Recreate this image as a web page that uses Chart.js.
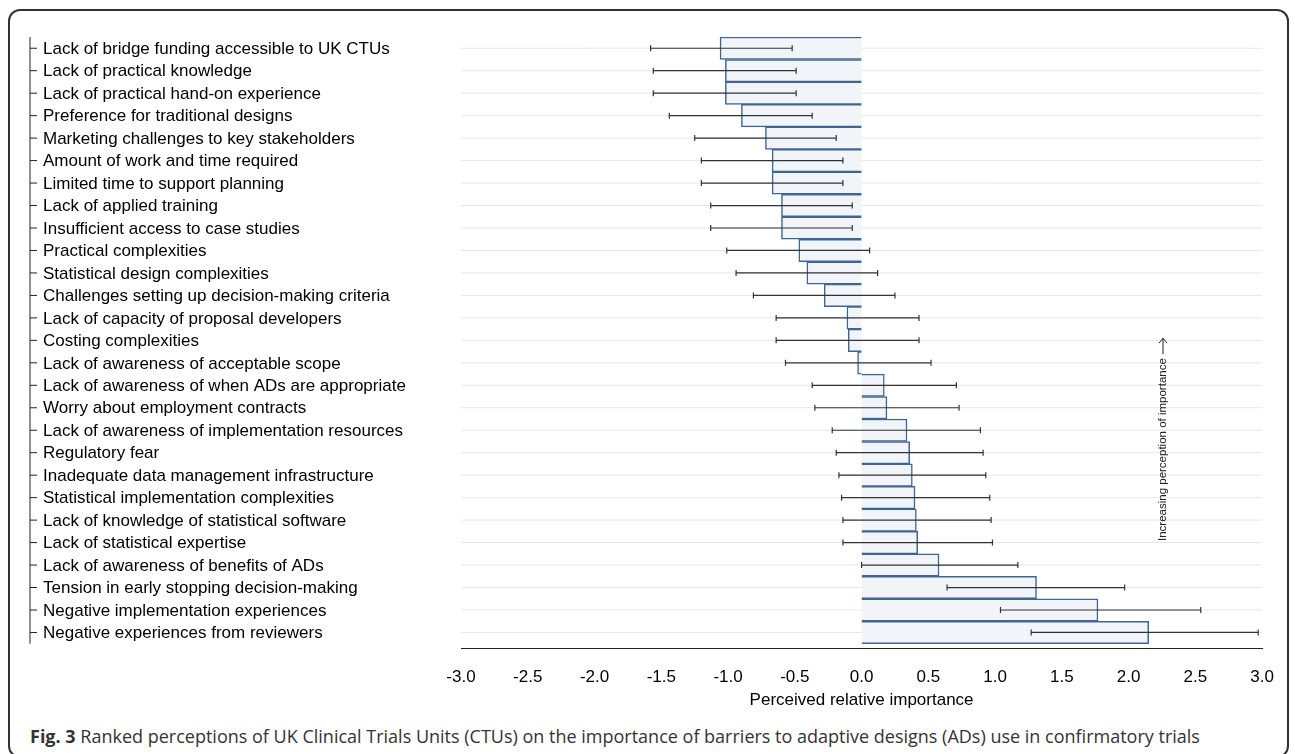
<!DOCTYPE html>
<html lang="en">
<head>
  <meta charset="UTF-8">
  <title>Barriers to adaptive designs</title>
  <script src="https://cdn.jsdelivr.net/npm/chart.js"></script>
  <style>
    body { margin: 0; background: #fff; font-family: 'Liberation Sans', Arial, sans-serif; }
    .box {
      position: absolute; left: 8px; top: 9px; width: 1277px; height: 745px;
      border: 2px solid #333; border-radius: 12px; overflow: hidden;
    }
    .wrap { position: absolute; left: 0; top: 0; width: 1277px; height: 700px; }
    .caption {
      position: absolute; left: 20px; top: 713px; font-family: 'Open Sans', sans-serif;
      font-size: 18px; color: #333; white-space: nowrap;
    }
  </style>
</head>
<body>
  <div class="box">
    <div class="wrap"><canvas id="chart"></canvas></div>
    <div class="caption"><b>Fig. 3</b> Ranked perceptions of UK Clinical Trials Units (CTUs) on the importance of barriers to adaptive designs (ADs) use in confirmatory trials</div>
  </div>
  <script>
    const categories = [
      'Lack of bridge funding accessible to UK CTUs', 'Lack of practical knowledge',
      'Lack of practical hand-on experience', 'Preference for traditional designs',
      'Marketing challenges to key stakeholders', 'Amount of work and time required',
      'Limited time to support planning', 'Lack of applied training',
      'Insufficient access to case studies', 'Practical complexities',
      'Statistical design complexities', 'Challenges setting up decision-making criteria',
      'Lack of capacity of proposal developers', 'Costing complexities',
      'Lack of awareness of acceptable scope', 'Lack of awareness of when ADs are appropriate',
      'Worry about employment contracts', 'Lack of awareness of implementation resources',
      'Regulatory fear', 'Inadequate data management infrastructure',
      'Statistical implementation complexities', 'Lack of knowledge of statistical software',
      'Lack of statistical expertise', 'Lack of awareness of benefits of ADs',
      'Tension in early stopping decision-making', 'Negative implementation experiences',
      'Negative experiences from reviewers'
    ];
    const estimates = [-1.06, -1.02, -1.02, -0.90, -0.72, -0.67, -0.67, -0.60, -0.60, -0.47, -0.41, -0.28, -0.11, -0.10, -0.03,
      0.17, 0.19, 0.34, 0.36, 0.38, 0.40, 0.41, 0.42, 0.58, 1.31, 1.77, 2.15];
    const lower = [-1.58, -1.56, -1.56, -1.44, -1.25, -1.20, -1.20, -1.13, -1.13, -1.01, -0.94, -0.81, -0.64, -0.64, -0.57,
      -0.37, -0.35, -0.22, -0.19, -0.17, -0.15, -0.14, -0.14, 0.00, 0.64, 1.04, 1.27];
    const upper = [-0.52, -0.49, -0.49, -0.37, -0.19, -0.14, -0.14, -0.07, -0.07, 0.06, 0.12, 0.25, 0.43, 0.43, 0.52,
      0.71, 0.73, 0.89, 0.91, 0.93, 0.96, 0.97, 0.98, 1.17, 1.97, 2.54, 2.97];
    const xTicks = [-3, -2.5, -2, -1.5, -1, -0.5, 0, 0.5, 1, 1.5, 2, 2.5, 3];

    const family = "'Liberation Sans', Arial, sans-serif";

    const extras = {
      id: 'extras',
      beforeDatasetsDraw(chart) {
        const { ctx, chartArea: a, scales: { y } } = chart;
        ctx.save();
        ctx.strokeStyle = '#e6e6e6';
        ctx.lineWidth = 1;
        categories.forEach((c, i) => {
          const py = y.getPixelForValue(i);
          ctx.beginPath(); ctx.moveTo(a.left, py); ctx.lineTo(a.right, py); ctx.stroke();
        });
        ctx.restore();
      },
      afterDatasetsDraw(chart) {
        const { ctx, scales: { x, y } } = chart;
        ctx.save();
        ctx.strokeStyle = '#333';
        ctx.lineWidth = 1.2;
        categories.forEach((c, i) => {
          const py = y.getPixelForValue(i);
          const x1 = x.getPixelForValue(lower[i]), x2 = x.getPixelForValue(upper[i]);
          ctx.beginPath();
          ctx.moveTo(x1, py); ctx.lineTo(x2, py);
          ctx.moveTo(x1, py - 3); ctx.lineTo(x1, py + 3);
          ctx.moveTo(x2, py - 3); ctx.lineTo(x2, py + 3);
          ctx.stroke();
        });
        // left category axis
        const axX = 20;
        ctx.strokeStyle = '#222';
        ctx.lineWidth = 1;
        ctx.beginPath();
        ctx.moveTo(axX, y.getPixelForValue(-0.5)); ctx.lineTo(axX, y.getPixelForValue(26.5));
        ctx.stroke();
        ctx.fillStyle = '#000';
        ctx.font = '17px ' + family;
        ctx.textBaseline = 'middle';
        ctx.textAlign = 'left';
        categories.forEach((c, i) => {
          const py = y.getPixelForValue(i);
          ctx.beginPath(); ctx.moveTo(axX, py); ctx.lineTo(axX + 7, py); ctx.stroke();
          ctx.fillText(c, axX + 13, py + 1);
        });
        // annotation
        ctx.translate(1153, 530);
        ctx.rotate(-Math.PI / 2);
        ctx.font = '11.5px ' + family;
        ctx.fillStyle = '#222';
        ctx.fillText('Increasing perception of importance', 0, 0);
        const w = ctx.measureText('Increasing perception of importance').width;
        ctx.beginPath(); ctx.moveTo(w + 4, 0); ctx.lineTo(w + 20, 0);
        ctx.moveTo(w + 15, -4); ctx.lineTo(w + 20, 0); ctx.lineTo(w + 15, 4);
        ctx.stroke();
        ctx.restore();
      }
    };

    new Chart(document.getElementById('chart'), {
      type: 'bar',
      data: {
        datasets: [{
          data: estimates.map((v, i) => ({ x: v, y: i })),
          backgroundColor: '#f1f5f9',
          borderColor: '#3f6690',
          borderWidth: 1.5,
          barPercentage: 1,
          categoryPercentage: 1
        }]
      },
      options: {
        indexAxis: 'y',
        responsive: true,
        maintainAspectRatio: false,
        animation: false,
        layout: { padding: { left: 451, right: 24, top: 26, bottom: 0 } },
        scales: {
          x: {
            type: 'linear', min: -3, max: 3,
            afterBuildTicks: s => { s.ticks = xTicks.map(v => ({ value: v })); },
            grid: { display: false, drawTicks: true, tickLength: 6, tickColor: '#222' },
            border: { color: '#222' },
            ticks: { color: '#000', font: { size: 17, family }, padding: 13,
              callback: v => v.toFixed(1) },
            title: { display: true, text: 'Perceived relative importance', color: '#000', padding: { top: -10, bottom: 0 },
              font: { size: 17, family } }
          },
          y: { type: 'linear', min: -0.5, max: 26.7, reverse: true, offset: false, display: false }
        },
        plugins: { legend: { display: false }, tooltip: { enabled: false } }
      },
      plugins: [extras]
    });
  </script>
</body>
</html>
